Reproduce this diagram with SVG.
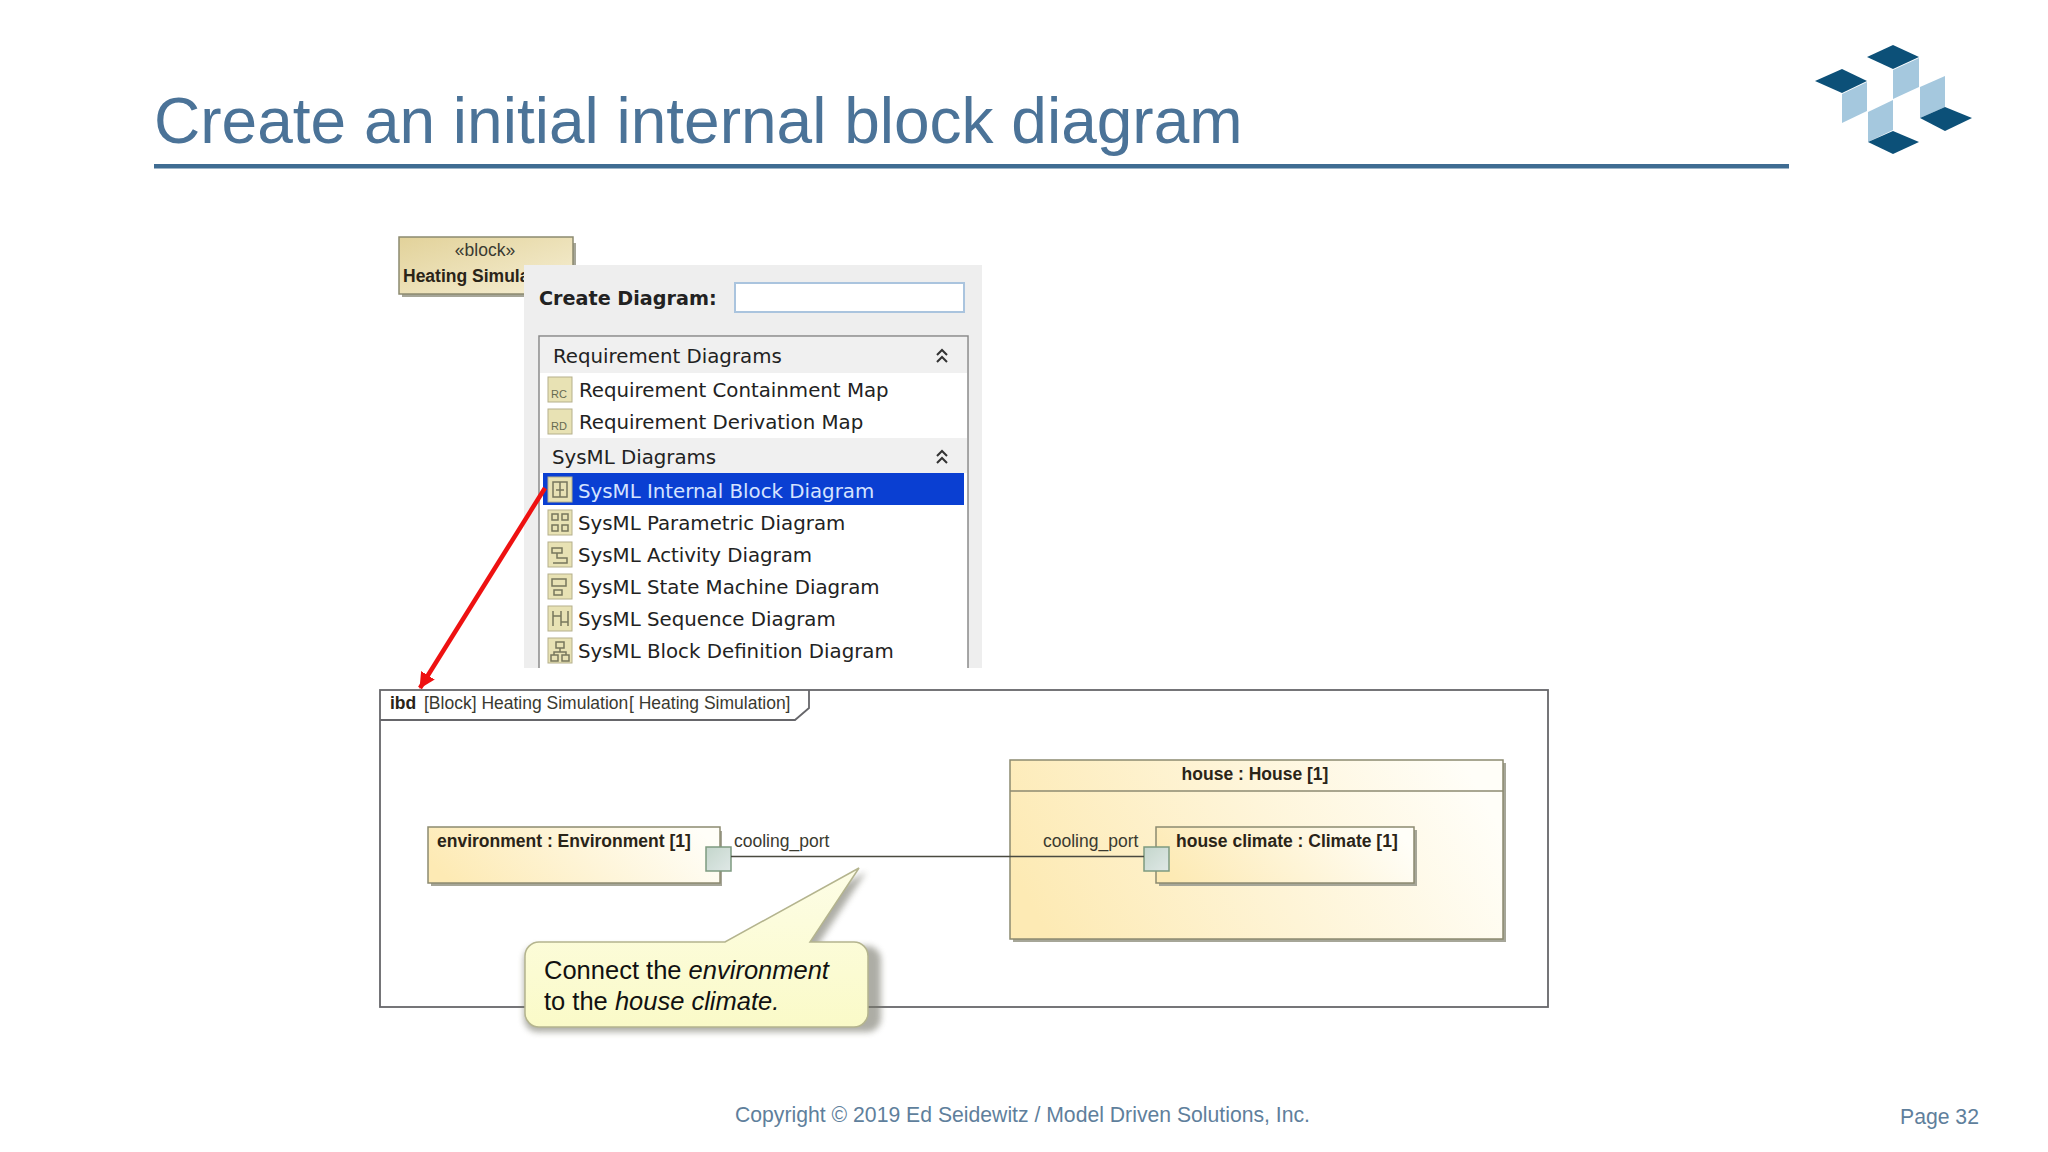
<svg xmlns="http://www.w3.org/2000/svg" width="2048" height="1152" viewBox="0 0 2048 1152">
<defs>
<linearGradient id="gBlock" x1="0" y1="0" x2="1" y2="1"><stop offset="0" stop-color="#e2d29a"/><stop offset="1" stop-color="#f6efd4"/></linearGradient>
<linearGradient id="gPart" x1="0" y1="0.6" x2="1" y2="0.4"><stop offset="0" stop-color="#fdeab4"/><stop offset="1" stop-color="#fffef8"/></linearGradient>
<linearGradient id="gPort" x1="0" y1="0" x2="1" y2="1"><stop offset="0" stop-color="#c4d6cc"/><stop offset="1" stop-color="#dfe8e6"/></linearGradient>
<linearGradient id="gNote" x1="0" y1="0" x2="0" y2="1"><stop offset="0" stop-color="#fdfde6"/><stop offset="1" stop-color="#fafac8"/></linearGradient>
<filter id="soft" x="-10%" y="-10%" width="120%" height="125%"><feGaussianBlur stdDeviation="3"/></filter>
<marker id="redHead" viewBox="0 0 16 16" refX="15" refY="8" markerWidth="16" markerHeight="16" markerUnits="userSpaceOnUse" orient="auto"><path d="M0 0L16 8L0 16Z" fill="#ee1111"/></marker>
</defs>
<style>
.ui{font-family:"DejaVu Sans",sans-serif;font-size:19.8px;fill:#222}
.uisel{fill:#d5e3ff}
.s{font-family:"Liberation Sans",Arial,sans-serif;font-size:17.5px;fill:#3a3a30}
.b{font-family:"Liberation Sans",Arial,sans-serif;font-size:17.5px;font-weight:bold;fill:#2a2418}
.dark{fill:#0c5078}
.light{fill:#a5c8de}
.ic{fill:#e8e2b4;stroke:#b5b08c;stroke-width:1}
.ict{font-family:"Liberation Sans",Arial,sans-serif;font-size:11px;fill:#666a50}
.icl{fill:none;stroke:#77775c;stroke-width:1.5}
.part{fill:url(#gPart);stroke:#8c8a70;stroke-width:1.5}
.shadow{fill:#a6a698}
.port{fill:url(#gPort);stroke:#7d9a80;stroke-width:1.5}
.chev{fill:none;stroke:#333;stroke-width:2}
.foot{font-family:"Liberation Sans",Arial,sans-serif;font-size:21.2px;fill:#5f7f9c}
</style>
<rect width="2048" height="1152" fill="#ffffff"/>
<g id="header">
<text x="154" y="143" font-family="Liberation Sans, Arial, sans-serif" font-size="64px" fill="#4b7398">Create an initial internal block diagram</text>
<rect x="154" y="164" width="1635" height="4.500" fill="#3f6c92"/>
</g>
<g id="logo">
<polygon class="dark" points="1867,57 1893,45 1919,57 1893,69"/>
<polygon class="light" points="1893,70 1919,58 1919,87 1893,99"/>
<polygon class="dark" points="1815,81 1842,69 1867,81 1842,93"/>
<polygon class="light" points="1842,94 1867,82 1867,111 1842,123"/>
<polygon class="light" points="1868,112 1893,100 1893,130 1868,142"/>
<polygon class="dark" points="1868,142 1893,131 1919,142 1893,154"/>
<polygon class="light" points="1920,87 1945,76 1945,107 1920,118"/>
<polygon class="dark" points="1920,118 1945,107 1972,118 1945,131"/>
</g>
<g id="block-heating-simulation">
<rect x="402" y="243" width="174" height="54" class="shadow"/>
<rect x="399" y="237" width="174" height="57" fill="url(#gBlock)" stroke="#8c8a70" stroke-width="1.500"/>
<text x="485" y="256" text-anchor="middle" class="s">«block»</text>
<text x="403" y="282" class="b">Heating Simula</text>
</g>
<g id="create-diagram-popup">
<rect x="524" y="265" width="458" height="403" fill="#eeeeee"/>
<text x="539" y="305" class="ui" style="font-weight:bold;font-size:19.2px">Create Diagram:</text>
<rect x="735" y="283" width="229" height="29" fill="#ffffff" stroke="#aac4de" stroke-width="2"/>
<path d="M539 668V336H968V668" fill="#ffffff" stroke="#8a8a8a" stroke-width="1.500"/>
<rect x="540" y="337" width="427" height="36" fill="#f0f0f0"/>
<rect x="540" y="438" width="427" height="35" fill="#f0f0f0"/>
<rect x="543" y="473" width="421" height="32" fill="#0a3fd2"/>
<text x="553" y="363" class="ui">Requirement Diagrams</text>
<path class="chev" d="M937 355l5-5l5 5M937 362l5-5l5 5"/>
<g><rect class="ic" x="548" y="377" width="24" height="25"/><text class="ict" x="551" y="398">RC</text></g>
<text x="579" y="397" class="ui">Requirement Containment Map</text>
<g><rect class="ic" x="548" y="409" width="24" height="25"/><text class="ict" x="551" y="430">RD</text></g>
<text x="579" y="429" class="ui">Requirement Derivation Map</text>
<text x="552" y="464" class="ui">SysML Diagrams</text>
<path class="chev" d="M937 456l5-5l5 5M937 463l5-5l5 5"/>
<g><rect class="ic" x="548" y="477" width="24" height="25"/><path class="icl" d="M553 482h14v15h-14zM560 482v15M556 490h8"/></g>
<text x="578" y="498" class="ui uisel">SysML Internal Block Diagram</text>
<g><rect class="ic" x="548" y="510" width="24" height="25"/><path class="icl" d="M552 514h6v6h-6zM562 514h6v6h-6zM552 525h6v6h-6zM562 525h6v6h-6z"/></g>
<text x="578" y="530" class="ui">SysML Parametric Diagram</text>
<g><rect class="ic" x="548" y="542" width="24" height="25"/><path class="icl" d="M552 548h10v5h-10zM557 553v5h10v5h-14"/></g>
<text x="578" y="562" class="ui">SysML Activity Diagram</text>
<g><rect class="ic" x="548" y="574" width="24" height="25"/><path class="icl" d="M552 579h14v7h-14zM554 590h8v5h-8z"/></g>
<text x="578" y="594" class="ui">SysML State Machine Diagram</text>
<g><rect class="ic" x="548" y="606" width="24" height="25"/><path class="icl" d="M553 611v15M561 611v15M568 611v15M553 616h8M561 622h7"/></g>
<text x="578" y="626" class="ui">SysML Sequence Diagram</text>
<g><rect class="ic" x="548" y="638" width="24" height="25"/><path class="icl" d="M556 642h8v6h-8zM551 655h7v6h-7zM562 655h7v6h-7zM560 648v4h-6v3M560 652h6v3"/></g>
<text x="578" y="658" class="ui">SysML Block Definition Diagram</text>
</g>
<g id="ibd-frame">
<rect x="380" y="690" width="1168" height="317" fill="#ffffff" stroke="#66666a" stroke-width="1.800"/>
<path d="M380 720H795L809 708V690" fill="none" stroke="#66666a" stroke-width="1.800"/>
<text x="390" y="709" class="b">ibd</text>
<text x="424" y="709" class="s">[Block] Heating Simulation</text>
<text x="629" y="709" class="s">[ Heating Simulation]</text>
</g>
<g id="environment">
<rect x="431" y="831" width="291" height="55" class="shadow"/>
<rect x="428" y="827" width="292" height="56" class="part"/>
<text x="437" y="847" class="b">environment : Environment [1]</text>
<rect x="706" y="847" width="25" height="24" class="port"/>
<text x="734" y="847" class="s">cooling_port</text>
</g>
<g id="house">
<rect x="1013" y="763" width="493" height="179" class="shadow"/>
<rect x="1010" y="760" width="493" height="179" class="part"/>
<line x1="1010" y1="791" x2="1503" y2="791" stroke="#8c8a70" stroke-width="1.500"/>
<text x="1255" y="780" text-anchor="middle" class="b">house : House [1]</text>
</g>
<g id="house-climate">
<rect x="1159" y="830" width="258" height="56" class="shadow"/>
<rect x="1156" y="827" width="258" height="56" class="part"/>
<text x="1176" y="847" class="b">house climate : Climate [1]</text>
<text x="1043" y="847" class="s">cooling_port</text>
<rect x="1144" y="847" width="25" height="24" class="port"/>
</g>
<g id="connectors">
<line x1="731" y1="856.500" x2="1144" y2="856.500" stroke="#4a4a40" stroke-width="1.500"/>
<line x1="545" y1="488" x2="420" y2="688" stroke="#ee1111" stroke-width="4.500" marker-end="url(#redHead)"/>
</g>
<g id="callout">
<path d="M538 946H732L866 872L817 946H867a14 14 0 0 1 14 14V1018a14 14 0 0 1-14 14H538a14 14 0 0 1-14-14V960a14 14 0 0 1 14-14Z" fill="#77776a" opacity="0.600" filter="url(#soft)"/>
<path d="M539 942H725L859 868L810 942H854a14 14 0 0 1 14 14V1013a14 14 0 0 1-14 14H539a14 14 0 0 1-14-14V956a14 14 0 0 1 14-14Z" fill="url(#gNote)" stroke="#b4b48e" stroke-width="1.500"/>
<text x="544" y="979" font-family="Liberation Sans, Arial, sans-serif" font-size="25.500px" fill="#111">Connect the <tspan font-style="italic">environment</tspan></text>
<text x="544" y="1010" font-family="Liberation Sans, Arial, sans-serif" font-size="25.500px" fill="#111">to the <tspan font-style="italic">house climate.</tspan></text>
</g>
<g id="footer">
<text x="735" y="1122" class="foot">Copyright © 2019 Ed Seidewitz / Model Driven Solutions, Inc.</text>
<text x="1900" y="1124" class="foot">Page 32</text>
</g>
</svg>
